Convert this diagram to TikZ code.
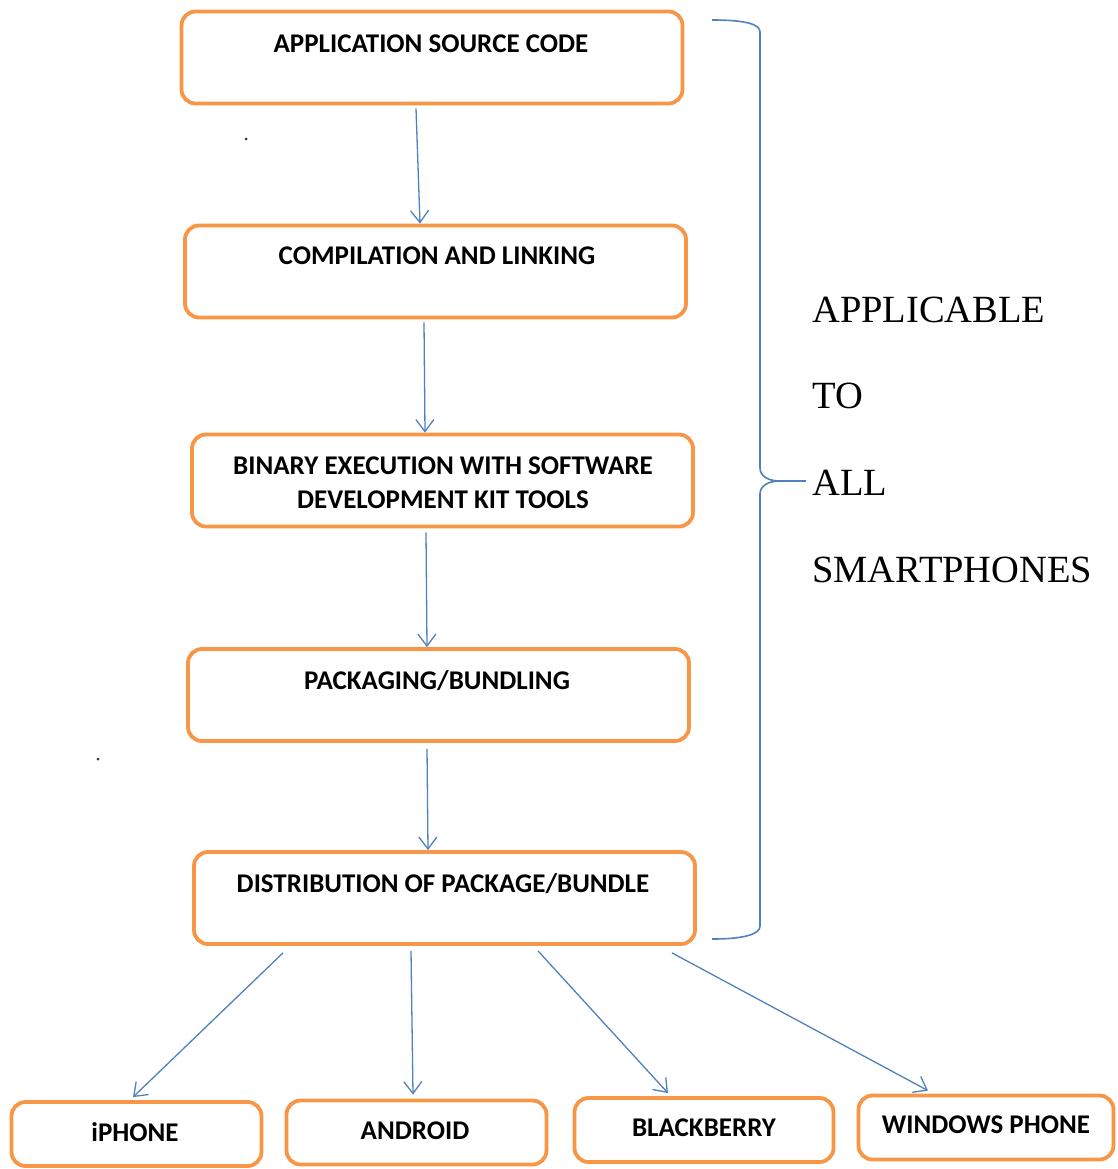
\documentclass[tikz,border=0pt]{standalone}
\usepackage{fontspec}
\setmainfont{Liberation Serif}
\newfontfamily\boxfont{Carlito}
\usetikzlibrary{arrows.meta}
\definecolor{boxorange}{RGB}{247,150,70}
\definecolor{arrowblue}{RGB}{79,129,189}
\tikzset{
  box/.style={draw=boxorange, line width=3.8pt, rounded corners=14pt, minimum width=#1, inner sep=0pt},
  bigbox/.style={box=501pt, minimum height=92pt},
  smallbox/.style={box=#1, minimum height=64pt},
  lbl/.style={font=\boxfont\bfseries\fontsize{27}{34}\selectfont, inner sep=0pt, align=center},
  side/.style={font=\fontsize{38.5}{44}\selectfont, inner sep=0pt, anchor=west},
  flow/.style={draw=arrowblue, line width=1.3pt, -{Straight Barb[length=12pt,width=18pt,line width=1.3pt]}},
  brace/.style={draw=arrowblue, line width=1.6pt},
  dotmark/.style={circle, fill=black!80, inner sep=0pt, minimum size=3pt}
}
\begin{document}
\begin{tikzpicture}[x=1pt,y=-1pt]
\useasboundingbox (0,0) rectangle (1117,1169);
% main boxes
\node[bigbox] (b1) at (432,57.5) {};
\node[bigbox] (b2) at (435.5,271.5) {};
\node[bigbox] (b3) at (442.5,480.5) {};
\node[bigbox] (b4) at (438.5,695) {};
\node[bigbox] (b5) at (444.5,898) {};
\node[lbl] (t1) at (431,44) {APPLICATION SOURCE CODE};
\node[lbl] (t2) at (437,256) {COMPILATION AND LINKING};
\node[lbl] (t3) at (443,483) {BINARY EXECUTION WITH SOFTWARE\\DEVELOPMENT KIT TOOLS};
\node[lbl] (t4) at (437,681) {PACKAGING/BUNDLING};
\node[lbl] (t5) at (443,884) {DISTRIBUTION OF PACKAGE/BUNDLE};
% bottom boxes
\node[smallbox=250pt] (p1) at (136.5,1134) {};
\node[smallbox=260pt] (p2) at (416.5,1132.5) {};
\node[smallbox=259pt] (p3) at (704,1130) {};
\node[smallbox=255pt] (p4) at (986,1127.5) {};
\node[lbl] (q1) at (135,1132) {iPHONE};
\node[lbl] (q2) at (415,1131) {ANDROID};
\node[lbl] (q3) at (704,1128) {BLACKBERRY};
\node[lbl] (q4) at (986,1125) {WINDOWS PHONE};
% flow arrows
\draw[flow] ([xshift=-16pt,yshift=-3pt]b1.south) -- ([xshift=-15.5pt]b2.north);
\draw[flow] ([xshift=-11.5pt,yshift=-3pt]b2.south) -- ([xshift=-17.5pt]b3.north);
\draw[flow] ([xshift=-16.5pt,yshift=-4pt]b3.south) -- ([xshift=-11.5pt]b4.north);
\draw[flow] ([xshift=-11.5pt,yshift=-6pt]b4.south) -- ([xshift=-16.5pt]b5.north);
\draw[flow] ([xshift=-161.5pt,yshift=-7pt]b5.south) -- ([xshift=-3.5pt,yshift=3pt]p1.north);
\draw[flow] ([xshift=-33.5pt,yshift=-5pt]b5.south) -- ([xshift=-3.5pt,yshift=4pt]p2.north);
\draw[flow] ([xshift=93.5pt,yshift=-5pt]b5.south) -- ([xshift=-36pt,yshift=3pt]p3.north);
\draw[flow] ([xshift=227.5pt,yshift=-7pt]b5.south) -- ([xshift=-58pt,yshift=3pt]p4.north);
% brace
\coordinate (brtop) at (712,20);
\coordinate (brtip) at (806,481);
\coordinate (brbot) at (712,939);
\draw[brace] (brtop) .. controls (745,20) and (760,24) .. (760,32)
  -- (760,468) .. controls (760,476) and (768,481) .. (780,481) -- (brtip);
\draw[brace] (780,481) .. controls (768,481) and (760,486) .. (760,494)
  -- (760,926) .. controls (760,934) and (745,939) .. (brbot);
% side text
\node[side] (s1) at (812,310) {APPLICABLE};
\node[side] (s2) at (812,396) {TO};
\node[side] (s3) at (812,483) {ALL};
\node[side] (s4) at (812,570) {SMARTPHONES};
% stray dots
\node[dotmark] (d1) at (246,139) {};
\node[dotmark] (d2) at (98,759) {};
\end{tikzpicture}
\end{document}
